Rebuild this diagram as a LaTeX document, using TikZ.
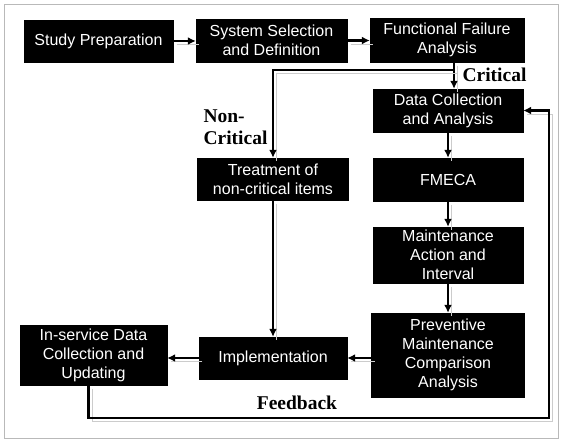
\documentclass[tikz,border=0pt]{standalone}
\usepackage{fontspec}
\setmainfont{Liberation Serif}
\setsansfont{Liberation Sans}
\usetikzlibrary{shapes,arrows,arrows.meta,positioning,calc}

\begin{document}
\begin{tikzpicture}[x=1pt,y=-1pt,
    box/.style={draw=black, fill=black, text=white, rectangle, minimum width=150pt, align=center, inner sep=2pt, font=\sffamily\fontsize{16}{19}\selectfont},
    flow/.style={line width=2.2pt, -{Latex[length=8pt,width=8pt]}, preaction={draw=gray!40, line width=0.9pt, -, transform canvas={shift={(3.5pt,-3.5pt)}}}},
    lbl/.style={font=\bfseries\fontsize{19.5}{22}\selectfont, align=left}]
    \useasboundingbox (0,0) rectangle (561,443);
    \draw[gray!55, line width=0.6pt] (4,4) rectangle (558,438);

    % top row
    \node[box, minimum width=149pt, minimum height=42pt] (prep) at (98.5,41) {Study Preparation};
    \node[box, minimum width=151pt, minimum height=43pt] (sel) at (271.5,40.5) {System Selection\\and Definition};
    \node[box, minimum width=154pt, minimum height=44pt] (ffa) at (447,40) {Functional Failure\\Analysis};

    % critical column
    \node[box, minimum height=43pt] (dca) at (448,110.5) {Data Collection\\and Analysis};
    \node[box, minimum height=43pt] (fmeca) at (448,179.5) {FMECA};
    \node[box, minimum height=56pt] (mai) at (448,255) {Maintenance\\Action and\\Interval};
    \node[box, minimum width=153pt, minimum height=84pt] (pmca) at (448,355) {Preventive\\Maintenance\\Comparison\\Analysis};

    % non-critical column
    \node[box, minimum width=151pt, minimum height=42pt] (trt) at (273,179) {Treatment of\\non-critical items};
    \node[box, minimum width=148pt, minimum height=42pt] (impl) at (273,358) {Implementation};
    \node[box, minimum width=147pt, minimum height=60pt] (isd) at (93.5,355) {In-service Data\\Collection and\\Updating};

    \node[lbl, anchor=west] (crit) at (459,75) {Critical};
    \node[lbl, anchor=west] (noncrit) at (200,127) {Non-\\Critical};
    \node[lbl] (fb) at (297,403) {Feedback};

    \coordinate (split) at ($(ffa.south)+(7,0)$);
    \coordinate (fbr) at (549,418);

    \draw[flow] (prep.east) -- (prep.east -| sel.west);
    \draw[flow] (sel.east) -- (sel.east -| ffa.west);
    \draw[flow] (split) -- (split |- dca.north);
    \draw[flow] (split) -- ++(0,8) -| (trt.north);
    \draw[flow] (dca) -- (fmeca);
    \draw[flow] (fmeca) -- (mai);
    \draw[flow] (mai) -- (pmca);
    \draw[flow] (trt) -- (impl);
    \draw[flow] (pmca.west |- impl) -- (impl.east);
    \draw[flow] (impl.west) -- (impl.west -| isd.east);
    \draw[flow] ([xshift=-5pt]isd.south) |- (fbr) |- (dca.east);
\end{tikzpicture}
\end{document}
